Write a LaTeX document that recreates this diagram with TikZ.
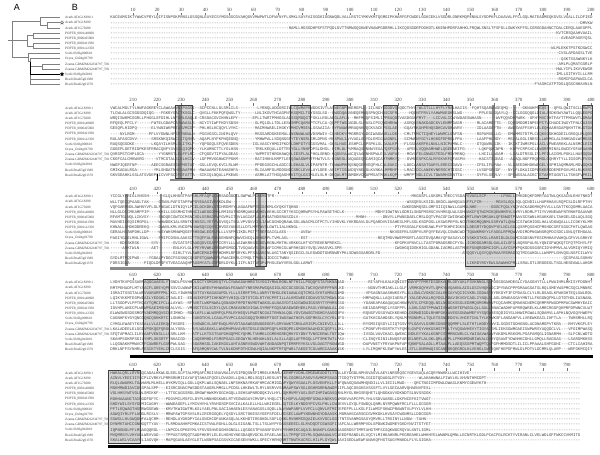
\documentclass[tikz,border=0pt]{standalone}
\usepackage{fontspec}
\setmainfont{Liberation Serif}
\newfontfamily\seqfont{Liberation Mono}[Ligatures=TeXOff]
\newfontfamily\panelfont{Liberation Sans}
\usetikzlibrary{shapes.geometric,arrows.meta}
\pgfmathsetseed{4711}
\newcommand\aach[1]{\ifcase#1 A\or L\or S\or G\or V\or E\or K\or I\or T\or R\or D\or P\or F\or N\or Q\or A\or L\or S\or Y\or H\or M\or C\or W\or L\or G\fi}
\newcommand\addS[1]{\foreach \jj in {1,...,#1}{\pgfmathrandominteger{\rr}{0}{24}\xdef\rowtext{\rowtext\aach{\rr}}}}
\newcommand\addG[1]{\foreach \jj in {1,...,#1}{\xdef\rowtext{\rowtext-}}}
\def\xzero{110.2}
\def\cw{2.41}
\expandafter\def\csname Yb1\endcsname{17.5}
\expandafter\def\csname Yb2\endcsname{108}
\expandafter\def\csname Yb3\endcsname{196.5}
\expandafter\def\csname Yb4\endcsname{282.5}
\expandafter\def\csname Yb5\endcsname{373}
\newcommand\seqrow[3]{%
  \pgfmathsetmacro\yy{\csname Yb#1\endcsname+5.15*(#2-1)+1.35}%
  \gdef\rowtext{}%
  \foreach \sk/\sn in {#3}{\csname add\sk\endcsname{\sn}}%
  \node[seqtext] (b#1r#2) at (\xzero,\yy) {\rowtext};%
}
\newcommand\lshade[3]{\pgfmathsetmacro\ta{\csname Yb#1\endcsname-3}\pgfmathsetmacro\tb{\csname Yb#1\endcsname+69.95}\fill[lightbox] (#2,\ta) rectangle (#3,\tb);}
\newcommand\dshade[3]{\pgfmathsetmacro\ta{\csname Yb#1\endcsname-3}\pgfmathsetmacro\tb{\csname Yb#1\endcsname+69.95}\fill[darkcol] (#2,\ta) rectangle (#3,\tb);}
\newcommand\obox[3]{\pgfmathsetmacro\ta{\csname Yb#1\endcsname-3}\pgfmathsetmacro\tb{\csname Yb#1\endcsname+69.95}\draw[boxline] (#2,\ta) rectangle (#3,\tb);}
\def\labellist{1/Arath.AT4G18390.1,2/Arath.AT3G18390,3/Arath.AT1G70200,4/POPTR\_0001s40600,5/POPTR\_0006s05060,6/POPTR\_0003s01590,7/POPTR\_0001s12350,8/Sorbi.Sb03g000610,9/Oryza\_Os04g01790,10/Zeama.GRMZM2G034797\_T01,11/Zeama.GRMZM2G049797\_T01,12/Sorbi.Sb03g042810,13/Bradi.Bradi5g01380,14/Bradi.Bradi2g01370}
\begin{document}
\begin{tikzpicture}[x=1pt,y=-1pt,
  seqtext/.style={font=\seqfont\fontsize{4.017}{5}\selectfont, text=black!72, inner sep=0pt, anchor=base west},
  lab/.style={font=\fontsize{3.4}{4}\selectfont, text=black!75, inner sep=0pt, anchor=base west},
  rulnum/.style={font=\fontsize{4.8}{5}\selectfont, text=black!75, inner sep=0pt, anchor=base},
  panel/.style={font=\panelfont\fontsize{9}{10}\selectfont, inner sep=0pt, anchor=center},
  tick/.style={draw=black!55, line width=0.3pt},
  tree/.style={draw=black!50, line width=0.45pt},
  treedark/.style={draw=black, line width=0.8pt},
  darkcol/.style={fill=black!45},
  lightbox/.style={fill=black!16},
  boxline/.style={draw=black!75, line width=0.4pt},
  leafmark/.style={star, star points=5, star point ratio=2.3, minimum size=3.8pt, inner sep=0pt, line width=0.3pt}
]
\useasboundingbox (0,0) rectangle (600,455);
\fill[white] (0,0) rectangle (600,455);

% panel labels
\node[panel] (pA) at (17,7) {A};
\node[panel] (pB) at (75,7) {B};

% ---------------- tree (panel A)
\foreach \i in {1,...,14}{\pgfmathsetmacro\yl{17.5+5.15*(\i-1)}\coordinate (L\i) at (60,\yl);}
\coordinate (R) at (12,40.7);
\coordinate (S0) at (8,40.7);
\coordinate (A) at (40,21.4);
\coordinate (A2) at (47,25.2);
\coordinate (P) at (27,40.7);
\coordinate (P1) at (33,35.5);
\coordinate (P2) at (33,45.8);
\coordinate (G1) at (28,57.5);
\coordinate (G2) at (30,61.5);
\coordinate (Z) at (42,66.4);
\draw[tree] (S0) -- (R) -- (P);
\draw[tree] (R) |- (A);
\draw[tree] (R) |- (G1);
\draw[tree] (A) |- (L1);
\draw[tree] (A) |- (A2);
\draw[tree] (A2) |- (L2);
\draw[tree] (A2) |- (L3);
\draw[tree] (P) |- (P1);
\draw[tree] (P) |- (P2);
\draw[tree] (P1) |- (L4);
\draw[tree] (P1) |- (L5);
\draw[tree] (P2) |- (L6);
\draw[tree] (P2) |- (L7);
\draw[tree] (G1) |- (L8);
\draw[tree] (G1) |- (G2);
\draw[tree] (G2) |- (L9);
\draw[tree] (G2) |- (Z);
\draw[tree] (Z) |- (L10);
\draw[tree] (Z) |- (L11);
\draw[tree] (G2) |- (L13);
\draw[tree] (G2) |- (L14);
\draw[treedark] (G2) |- (L12);
\node[leafmark, draw=black!70, fill=white] (m2) at (62,22.65) {};
\node[leafmark, draw=black, fill=black] (m12) at (62,74.15) {};

% ---------------- shading (behind text)
\lshade{2}{175}{192}\dshade{2}{178}{182}
\lshade{2}{290}{310}\lshade{2}{333}{347}\dshade{2}{363}{366}
\lshade{2}{383}{397}\lshade{2}{415}{452}\dshade{2}{492}{495}
\dshade{2}{513}{516}\lshade{2}{538}{548}\lshade{2}{582}{592}
\dshade{3}{125}{128}\dshade{3}{160}{162}
\lshade{3}{192}{218}\dshade{3}{213}{217}
\dshade{3}{235}{237}
\lshade{3}{255}{266}\dshade{3}{258}{261}
\lshade{3}{465}{515}
\lshade{4}{143}{169}\lshade{4}{192}{337}
\lshade{4}{407}{491}\dshade{4}{445}{447.5}\dshade{4}{488}{491}
\lshade{5}{108}{140}\lshade{5}{282}{337}

% ---------------- rulers and labels
\foreach \b/\off/\kmax in {1/0/200,2/200/200,3/400/200,4/600/200,5/600/190}{
  \foreach \k in {10,20,...,\kmax}{
    \pgfmathsetmacro\xx{\xzero+(\k-0.5)*\cw}
    \pgfmathtruncatemacro\lbl{\k+\off}
    \pgfmathsetmacro\yn{\csname Yb\b\endcsname-6.5}
    \node[rulnum] (n\b k\k) at (\xx,\yn) {\lbl};
    \draw[tick] (n\b k\k.south) ++(0,1.3) -- ++(0,2.6);
  }
  \foreach \r/\nm in \labellist{
    \pgfmathsetmacro\yl{\csname Yb\b\endcsname+5.15*(\r-1)+1.2}
    \node[lab] (l\b r\r) at (65,\yl) {\nm};
  }
}

% ---------------- block 1 (1-200)
\seqrow{1}{1}{S/200}
\seqrow{1}{2}{G/195,S/5}
\seqrow{1}{3}{G/74,S/126}
\seqrow{1}{4}{G/185,S/15}
\seqrow{1}{5}{G/187,S/13}
\seqrow{1}{6}{G/200}
\seqrow{1}{7}{G/183,S/17}
\seqrow{1}{8}{G/186,S/14}
\seqrow{1}{9}{G/187,S/13}
\seqrow{1}{10}{G/186,S/14}
\seqrow{1}{11}{G/185,S/15}
\seqrow{1}{12}{G/185,S/15}
\seqrow{1}{13}{G/186,S/14}
\seqrow{1}{14}{G/176,S/24}

% ---------------- block 2 (201-400)
\seqrow{2}{1}{S/35,G/2,S/16,G/8,S/45,G/1,S/20,G/1,S/20,G/2,S/15,G/6,S/10,G/3,S/16}
\seqrow{2}{2}{S/18,G/3,S/14,G/2,S/17,G/6,S/30,G/2,S/28,G/4,S/22,G/7,S/12,G/2,S/33}
\seqrow{2}{3}{S/36,G/1,S/16,G/6,S/40,G/2,S/30,G/3,S/20,G/6,S/12,G/2,S/26}
\seqrow{2}{4}{S/11,G/6,S/18,G/2,S/16,G/7,S/30,G/1,S/28,G/3,S/24,G/6,S/10,G/3,S/35}
\seqrow{2}{5}{S/11,G/6,S/18,G/2,S/16,G/7,S/31,G/1,S/27,G/3,S/24,G/6,S/10,G/3,S/35}
\seqrow{2}{6}{G/4,S/6,G/6,S/19,G/2,S/16,G/7,S/30,G/1,S/28,G/3,S/24,G/6,S/10,G/3,S/35}
\seqrow{2}{7}{S/11,G/6,S/18,G/2,S/16,G/7,S/30,G/1,S/28,G/3,S/24,G/6,S/10,G/3,S/35}
\seqrow{2}{8}{S/10,G/7,S/18,G/2,S/16,G/6,S/31,G/1,S/28,G/3,S/24,G/6,S/10,G/3,S/35}
\seqrow{2}{9}{S/35,G/2,S/16,G/7,S/31,G/1,S/28,G/3,S/24,G/6,S/10,G/3,S/34}
\seqrow{2}{10}{S/14,G/6,S/15,G/2,S/16,G/7,S/31,G/1,S/28,G/3,S/24,G/6,S/10,G/3,S/34}
\seqrow{2}{11}{S/14,G/5,S/16,G/2,S/16,G/7,S/31,G/1,S/28,G/3,S/24,G/6,S/10,G/3,S/34}
\seqrow{2}{12}{S/11,G/6,S/18,G/2,S/16,G/7,S/30,G/1,S/28,G/3,S/24,G/6,S/10,G/3,S/35}
\seqrow{2}{13}{S/11,G/7,S/17,G/2,S/16,G/7,S/30,G/1,S/28,G/3,S/24,G/6,S/10,G/3,S/35}
\seqrow{2}{14}{S/35,G/2,S/16,G/7,S/30,G/1,S/28,G/3,S/24,G/6,S/10,G/3,S/35}

% ---------------- block 3 (401-600)
\seqrow{3}{1}{S/16,G/6,S/46,G/57,S/31,G/6,S/38}
\seqrow{3}{2}{S/16,G/4,S/30,G/73,S/31,G/6,S/40}
\seqrow{3}{3}{S/78,G/43,S/31,G/6,S/42}
\seqrow{3}{4}{S/16,G/4,S/77,G/13,S/90}
\seqrow{3}{5}{S/16,G/4,S/58,G/24,S/4,G/7,S/87}
\seqrow{3}{6}{S/16,G/4,S/180}
\seqrow{3}{7}{S/16,G/4,S/58,G/40,S/82}
\seqrow{3}{8}{S/16,G/4,S/53,G/6,S/4,G/33,S/84}
\seqrow{3}{9}{S/16,G/4,S/54,G/5,S/3,G/29,S/89}
\seqrow{3}{10}{G/4,S/8,G/5,S/3,G/6,S/70,G/22,S/82}
\seqrow{3}{11}{G/5,S/7,G/5,S/3,G/6,S/70,G/22,S/82}
\seqrow{3}{12}{G/26,S/86,G/34,S/54}
\seqrow{3}{13}{S/12,G/4,S/58,G/114,S/12}
\seqrow{3}{14}{S/8,G/6,S/70,G/64,S/52}

% ---------------- block 4 (601-800)
\seqrow{4}{1}{S/97,G/10,S/93}
\seqrow{4}{2}{S/97,G/10,S/93}
\seqrow{4}{3}{S/97,G/9,S/94}
\seqrow{4}{4}{S/30,G/2,S/65,G/8,S/95}
\seqrow{4}{5}{S/30,G/2,S/65,G/8,S/95}
\seqrow{4}{6}{S/30,G/2,S/65,G/8,S/95}
\seqrow{4}{7}{S/30,G/2,S/65,G/8,S/95}
\seqrow{4}{8}{S/31,G/3,S/63,G/8,S/82,G/3,S/10}
\seqrow{4}{9}{S/31,G/3,S/63,G/8,S/82,G/3,S/10}
\seqrow{4}{10}{S/31,G/3,S/63,G/8,S/82,G/3,S/10}
\seqrow{4}{11}{S/31,G/3,S/63,G/8,S/82,G/3,S/10}
\seqrow{4}{12}{S/31,G/3,S/63,G/8,S/82,G/3,S/10}
\seqrow{4}{13}{S/31,G/3,S/63,G/8,S/82,G/3,S/10}
\seqrow{4}{14}{S/31,G/3,S/63,G/8,S/82,G/3,S/10}

% ---------------- block 5
\seqrow{5}{1}{S/149,G/46}
\seqrow{5}{2}{S/122,G/6,S/28,G/39}
\seqrow{5}{3}{S/122,G/4,S/30,G/39}
\seqrow{5}{4}{S/20,G/3,S/110,G/62}
\seqrow{5}{5}{S/20,G/3,S/110,G/62}
\seqrow{5}{6}{S/20,G/3,S/110,G/62}
\seqrow{5}{7}{S/20,G/3,S/110,G/62}
\seqrow{5}{8}{S/20,G/3,S/110,G/62}
\seqrow{5}{9}{S/20,G/3,S/110,G/62}
\seqrow{5}{10}{S/20,G/3,S/102,G/2,S/4,G/64}
\seqrow{5}{11}{S/20,G/3,S/110,G/62}
\seqrow{5}{12}{S/20,G/3,S/110,G/62}
\seqrow{5}{13}{S/20,G/3,S/172}
\seqrow{5}{14}{S/20,G/3,S/110,G/62}

% ---------------- box outlines
\obox{2}{175}{192}\obox{2}{290}{310}\obox{2}{333}{347}\obox{2}{383}{397}
\obox{2}{415}{452}\obox{2}{538}{548}\obox{2}{582}{592}
\obox{3}{192}{218}\obox{3}{255}{266}\obox{3}{465}{515}
\obox{4}{143}{169}\obox{4}{192}{337}\obox{4}{407}{447}\obox{4}{447}{491}
\obox{5}{108}{140}\obox{5}{282}{337}

% ---------------- bars and arrow
\fill[black!45] (170,178.8) rectangle (594,181.3);
\coordinate (arT) at (157,174.2);
\coordinate (arB) at (157,181);
\draw[-{Stealth[length=1.6pt,width=1.6pt]}, line width=0.5pt] (arT) -- (arB);
\fill[black!45] (110,267.2) rectangle (265,269.7);
\fill[black!18] (465,267.2) rectangle (515,269.7);
\fill[black] (130,354.6) rectangle (593,357.6);
\fill[black] (108,444.6) rectangle (330,447.6);
\end{tikzpicture}
\end{document}
